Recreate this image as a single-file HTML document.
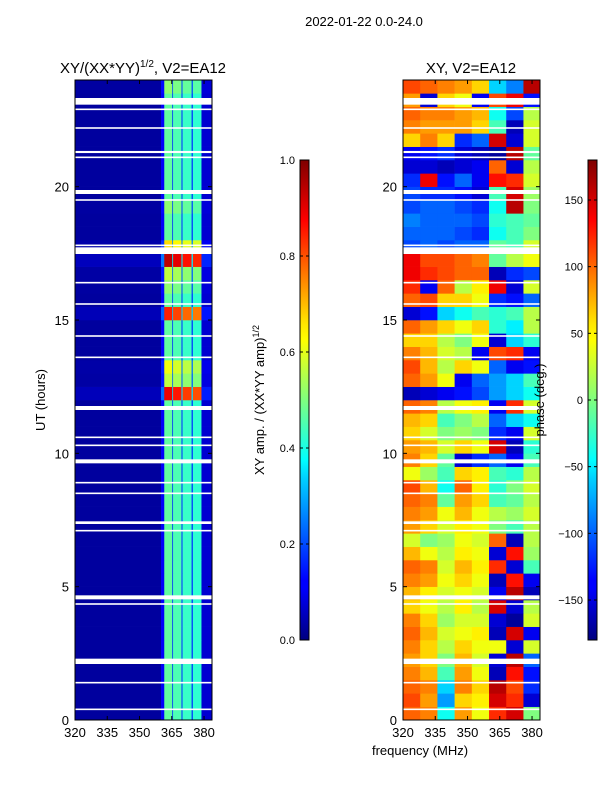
<!DOCTYPE html>
<html><head><meta charset="utf-8"><style>
body{margin:0;background:#fff;}
svg text{font-family:"Liberation Sans",sans-serif;}
</style></head><body>
<svg id="fig" width="600" height="800" xmlns="http://www.w3.org/2000/svg">
<defs>
<linearGradient id="jet" x1="0" y1="1" x2="0" y2="0">
<stop offset="0" stop-color="#00007f"/><stop offset="0.11" stop-color="#0000ff"/><stop offset="0.125" stop-color="#0000ff"/>
<stop offset="0.34" stop-color="#00d4ff"/><stop offset="0.375" stop-color="#00ffff"/><stop offset="0.5" stop-color="#7fff7f"/>
<stop offset="0.625" stop-color="#ffff00"/><stop offset="0.66" stop-color="#ffe600"/><stop offset="0.875" stop-color="#ff0000"/><stop offset="1" stop-color="#7f0000"/>
</linearGradient>
</defs>
<text x="364" y="26" font-size="13" text-anchor="middle">2022-01-22 0.0-24.0</text>
<text x="143" y="73" font-size="15" text-anchor="middle">XY/(XX*YY)<tspan font-size="10" dy="-6">1/2</tspan><tspan dy="6">, V2=EA12</tspan></text>
<text x="471" y="73" font-size="15" text-anchor="middle">XY, V2=EA12</text>
<g id="left"></g>
<g id="right"></g>
<g id="gaps"></g>
<g id="axes"></g>
<text transform="translate(45,400) rotate(-90)" font-size="13" text-anchor="middle">UT (hours)</text>
<text x="420" y="755" font-size="13" text-anchor="middle">frequency (MHz)</text>
<rect x="300" y="160" width="9" height="480" fill="url(#jet)" stroke="#000" stroke-width="1"/>
<rect x="588" y="160" width="9" height="480" fill="url(#jet)" stroke="#000" stroke-width="1"/>
<text transform="translate(264,400) rotate(-90)" font-size="13" text-anchor="middle">XY amp. / (XX*YY amp)<tspan font-size="9" dy="-5">1/2</tspan></text>
<text transform="translate(544,400) rotate(-90)" font-size="13" text-anchor="middle">phase (deg.)</text>
<g id="cb"></g>
</svg>
<script>
const freqEdges=[320,360,361.5,365.2,365.6,369.5,370,374.2,374.8,378.8,383.7];
const baseAmp=[0.03,0.12,0.47,0.18,0.45,0.18,0.43,0.18,0.42,0.08];
const ampRowFactor=[1,1,1,1,1,1,1,1,1,1,1,1,1,1,1,1,1,1,1,1,1,1,1,1,1.9,1.2,1.3,1,1,1,1.8,1,1.1,1.2,2.0,1.4,1,1,1.1,1,1,1,1,1,1,1,1,1.1];
const phaseFreqEdges=[320,328,336,344,352,360,368,376,383.7];
const phase=[
[100,90,-40,80,40,120,150,0],[110,80,-80,60,50,150,120,-150],[100,90,-60,90,60,160,110,-120],[90,70,-20,80,40,-160,130,-130],
[80,60,0,70,30,-150,160,-100],[90,60,20,60,40,40,-150,30],[100,70,30,40,50,-160,150,-140],[90,60,10,30,30,-150,-170,30],
[60,40,20,50,20,150,-150,20],[70,50,30,40,30,-140,160,-160],[90,80,40,60,40,-160,130,-140],[100,90,30,70,50,120,-150,-20],
[70,40,20,50,40,-150,130,10],[30,0,10,40,30,100,-160,20],[80,60,30,50,40,0,-20,20],[90,80,40,70,40,20,10,30],
[100,90,-10,80,60,-20,-10,20],[110,70,-40,100,50,-30,0,30],[40,10,-20,60,50,-20,-30,20],[90,60,-10,-150,-120,-100,-140,-20],
[80,70,30,60,40,150,-160,-30],[60,30,0,10,0,-120,-140,30],[70,60,-20,0,20,-100,-60,-40],[100,90,20,40,50,-140,120,30],
[-160,-150,-140,-130,-110,-80,-60,-40],[100,80,40,-140,-100,-80,-60,-20],[110,70,20,60,40,-100,-140,-130],[90,70,30,20,-140,110,120,-140],
[60,60,20,0,40,-150,-60,-30],[100,80,60,40,60,-30,-50,20],[-150,-130,-60,-40,-20,-30,-20,20],[100,110,60,60,40,-120,-130,-100],
[120,-140,100,20,50,140,-150,30],[140,120,110,100,100,-160,-120,-110],[140,110,110,100,90,-10,20,40],[-110,-100,-110,-100,-100,-10,-20,30],
[-100,-100,-100,-110,-120,-40,-20,0],[-90,-100,-100,-100,-110,-30,-20,-10],[-110,-100,-100,-110,-120,-40,160,0],[-110,-120,-120,-130,-150,-20,150,10],
[-120,140,-130,-100,-140,130,120,30],[-150,-150,-160,-150,-140,100,-150,20],[-140,-130,-120,-150,-160,-170,160,-10],[60,90,60,-120,-100,150,-150,30],
[90,80,80,80,60,-20,-160,30],[100,90,90,80,70,-40,-110,20],[80,-150,60,40,-140,110,140,-130],[110,100,90,80,60,-60,-90,160]];
const gapHours=[0.4,1.4,2.2,4.35,4.6,7.1,7.4,8.5,8.9,9.7,10.3,10.6,11.7,13.6,14.4,15.6,16.4,17.6,17.8,19.5,19.8,21.1,21.3,22.2,22.9,23.2];
const gapWidths=[0.06,0.06,0.2,0.06,0.15,0.06,0.1,0.06,0.06,0.15,0.06,0.06,0.15,0.06,0.06,0.06,0.06,0.25,0.06,0.06,0.15,0.06,0.08,0.06,0.06,0.25];
const xTicks=[320,335,350,365,380];
const yTicks=[0,5,10,15,20];
const ampTicks=[0.0,0.2,0.4,0.6,0.8,1.0];
const phaseTicks=[-150,-100,-50,0,50,100,150];

const NS="http://www.w3.org/2000/svg";
const Y0=720,YT=80,FMIN=320,FMAX=383.7;
function y(h){return Y0-(Y0-YT)*h/24;}
function xL(f){return 75+(212-75)*(f-FMIN)/(FMAX-FMIN);}
function xR(f){return 403+(540-403)*(f-FMIN)/(FMAX-FMIN);}
function cl(v){return Math.max(0,Math.min(1,v));}
function jet(t){t=cl(t);const r=cl(1.5-Math.abs(4*t-3)),g=cl(1.5-Math.abs(4*t-2)),b=cl(1.5-Math.abs(4*t-1));return `rgb(${Math.round(r*255)},${Math.round(g*255)},${Math.round(b*255)})`;}
function mk(tag,attrs,parent){const e=document.createElementNS(NS,tag);for(const k in attrs)e.setAttribute(k,attrs[k]);parent.appendChild(e);return e;}
const L=document.getElementById('left'),R=document.getElementById('right'),G=document.getElementById('gaps'),A=document.getElementById('axes'),CB=document.getElementById('cb');
for(let i=0;i<ampRowFactor.length;i++){
  for(let j=0;j<baseAmp.length;j++){
    const r=mk('rect',{x:xL(freqEdges[j]),y:y((i+1)*0.5),width:xL(freqEdges[j+1])-xL(freqEdges[j])+0.3,height:y(i*0.5)-y((i+1)*0.5)+0.3,fill:jet(cl(baseAmp[j]*ampRowFactor[i]))},L);
    
    
  }
}
for(let i=0;i<phase.length;i++){
  for(let j=0;j<phase[i].length;j++){
    const r=mk('rect',{x:xR(phaseFreqEdges[j]),y:y((i+1)*0.5),width:xR(phaseFreqEdges[j+1])-xR(phaseFreqEdges[j])+0.3,height:y(i*0.5)-y((i+1)*0.5)+0.3,fill:jet((phase[i][j]+180)/360)},R);
    
    
  }
}
gapHours.forEach((h,k)=>{
  [[75,137],[403,137]].forEach(([x0,w])=>{
    const r=mk('rect',{x:x0,y:y(h+gapWidths[k]/2),width:w,height:Math.max(1.5,y(h-gapWidths[k]/2)-y(h+gapWidths[k]/2)),fill:'#fff'},G);
    
    
  });
});
[[75,xL],[403,xR]].forEach(([x0,fx])=>{
  const f=mk('rect',{x:x0,y:80,width:137,height:640,fill:'none',stroke:'#000','stroke-width':1},A);
  
  
  xTicks.forEach(t=>{
    const X=fx(t);
    mk('line',{x1:X,x2:X,y1:720,y2:716,stroke:'#000'},A);
    mk('line',{x1:X,x2:X,y1:80,y2:84,stroke:'#000'},A);
    const tx=mk('text',{x:X,y:737,'font-size':13,'text-anchor':'middle'},A);tx.textContent=t;
    
    
  });
  yTicks.forEach(t=>{
    const Y=y(t);
    mk('line',{x1:x0,x2:x0+4,y1:Y,y2:Y,stroke:'#000'},A);
    mk('line',{x1:x0+137,x2:x0+133,y1:Y,y2:Y,stroke:'#000'},A);
    const tx=mk('text',{x:x0-6,y:Y+5,'font-size':13,'text-anchor':'end'},A);tx.textContent=t;
    
    
  });
});
ampTicks.forEach(t=>{
  const Y=640-480*t;
  mk('line',{x1:300,x2:303,y1:Y,y2:Y,stroke:'#000'},CB);mk('line',{x1:306,x2:309,y1:Y,y2:Y,stroke:'#000'},CB);
  const tx=mk('text',{x:295,y:Y+4,'font-size':11,'text-anchor':'end'},CB);tx.textContent=t.toFixed(1);
  
  
});
phaseTicks.forEach(t=>{
  const Y=640-480*(t+180)/360;
  mk('line',{x1:588,x2:591,y1:Y,y2:Y,stroke:'#000'},CB);mk('line',{x1:594,x2:597,y1:Y,y2:Y,stroke:'#000'},CB);
  const tx=mk('text',{x:583,y:Y+4,'font-size':11,'text-anchor':'end'},CB);tx.textContent=t<0?'\u2212'+(-t):t;
  
  
});
</script>
</body></html>
